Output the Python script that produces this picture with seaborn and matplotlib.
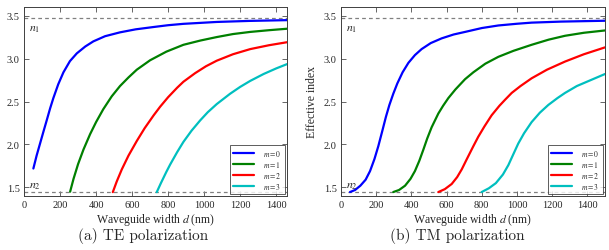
import matplotlib
matplotlib.use("Agg")
import matplotlib.pyplot as plt
import seaborn as sns
import pandas as pd

# ---- data ----
N1 = 3.476
N2 = 1.444

te_m0_d = [52, 70, 89, 108, 126, 145, 163, 190, 219, 255, 293, 340, 385, 450, 533, 620, 719, 800, 885, 1070, 1250, 1460]
te_m0_n = [1.72, 1.87, 2.01, 2.15, 2.28, 2.42, 2.54, 2.70, 2.84, 2.97, 3.06, 3.14, 3.20, 3.26, 3.305, 3.34, 3.367, 3.388, 3.404, 3.426, 3.438, 3.447]
te_m1_d = [256, 275, 300, 330, 367, 400, 440, 487, 533, 580, 626, 700, 790, 885, 980, 1070, 1160, 1256, 1360, 1460]
te_m1_n = [1.45, 1.60, 1.77, 1.94, 2.12, 2.26, 2.41, 2.56, 2.68, 2.78, 2.87, 2.98, 3.08, 3.16, 3.21, 3.25, 3.285, 3.31, 3.33, 3.347]
te_m2_d = [493, 515, 543, 580, 626, 670, 720, 756, 800, 850, 885, 950, 1010, 1070, 1160, 1256, 1360, 1460]
te_m2_n = [1.445, 1.57, 1.71, 1.87, 2.04, 2.19, 2.34, 2.44, 2.55, 2.66, 2.73, 2.83, 2.91, 2.975, 3.05, 3.11, 3.155, 3.19]
te_m3_d = [737, 760, 790, 811, 850, 885, 930, 978, 1020, 1070, 1144, 1200, 1256, 1330, 1400, 1460]
te_m3_n = [1.445, 1.55, 1.68, 1.765, 1.91, 2.03, 2.16, 2.28, 2.375, 2.47, 2.59, 2.67, 2.74, 2.82, 2.885, 2.935]

tm_m0_d = [51, 80, 110, 140, 165, 190, 212, 235, 255, 275, 297, 320, 350, 383, 420, 458, 510, 572, 640, 705, 800, 894, 1000, 1083, 1250, 1500]
tm_m0_n = [1.446, 1.47, 1.52, 1.59, 1.69, 1.83, 1.98, 2.16, 2.32, 2.46, 2.59, 2.71, 2.84, 2.95, 3.04, 3.11, 3.18, 3.235, 3.28, 3.31, 3.355, 3.385, 3.405, 3.418, 3.43, 3.44]
tm_m1_d = [297, 330, 364, 395, 420, 445, 468, 490, 515, 553, 580, 610, 650, 705, 752, 820, 894, 980, 1083, 1180, 1273, 1380, 1500]
tm_m1_n = [1.446, 1.47, 1.52, 1.60, 1.69, 1.81, 1.94, 2.07, 2.20, 2.36, 2.45, 2.54, 2.64, 2.76, 2.84, 2.94, 3.02, 3.09, 3.16, 3.22, 3.265, 3.30, 3.327]
tm_m2_d = [553, 590, 629, 660, 686, 715, 752, 780, 815, 856, 900, 932, 970, 1020, 1083, 1170, 1273, 1380, 1500]
tm_m2_n = [1.446, 1.48, 1.54, 1.62, 1.71, 1.83, 1.98, 2.09, 2.21, 2.34, 2.45, 2.52, 2.60, 2.68, 2.77, 2.87, 2.965, 3.05, 3.13]
tm_m3_d = [799, 840, 880, 920, 951, 980, 1007, 1040, 1083, 1130, 1178, 1230, 1273, 1340, 1420, 1500]
tm_m3_n = [1.446, 1.49, 1.55, 1.65, 1.76, 1.89, 2.01, 2.13, 2.26, 2.37, 2.46, 2.54, 2.60, 2.68, 2.75, 2.82]

mode_labels = ["$m=0$", "$m=1$", "$m=2$", "$m=3$"]
mode_colors = ["#0000ff", "#008000", "#ff0000", "#00bfbf"]
x_ticks = [0, 200, 400, 600, 800, 1000, 1200, 1400]
y_ticks = [1.5, 2.0, 2.5, 3.0, 3.5]
captions = ["(a) TE polarization", "(b) TM polarization"]

sns.set_theme(style="ticks")
plt.rcParams["font.family"] = ["Liberation Serif", "DejaVu Serif"]
plt.rcParams["mathtext.fontset"] = "stix"
plt.rcParams["lines.solid_joinstyle"] = "round"


def make_df(ds, ns):
    rows = []
    for lab, d, n in zip(mode_labels, ds, ns):
        for xi, yi in zip(d, n):
            rows.append({"d": xi, "n": yi, "mode": lab})
    return pd.DataFrame(rows)


df_te = make_df([te_m0_d, te_m1_d, te_m2_d, te_m3_d], [te_m0_n, te_m1_n, te_m2_n, te_m3_n])
df_tm = make_df([tm_m0_d, tm_m1_d, tm_m2_d, tm_m3_d], [tm_m0_n, tm_m1_n, tm_m2_n, tm_m3_n])

fig = plt.figure(figsize=(6.09, 2.51), dpi=100)
ax1 = fig.add_axes([24 / 609, 1 - 197 / 251, 263 / 609, 189 / 251])
ax2 = fig.add_axes([341 / 609, 1 - 197 / 251, 264 / 609, 189 / 251])

for ax, df, xmax in [(ax1, df_te, 1460), (ax2, df_tm, 1500)]:
    ax.axhline(N1, color="0.5", ls=(0, (3, 2.5)), lw=0.9, zorder=1)
    ax.axhline(N2, color="0.5", ls=(0, (3, 2.5)), lw=0.9, zorder=1)
    sns.lineplot(data=df, x="d", y="n", hue="mode", palette=mode_colors,
                 hue_order=mode_labels, sort=False, estimator=None, lw=1.6, ax=ax)
    ax.set_xlim(0, xmax)
    ax.set_ylim(1.4, 3.6)
    ax.set_xticks(x_ticks)
    ax.set_yticks(y_ticks)
    ax.set_xticklabels([str(t) for t in x_ticks])
    ax.set_yticklabels([f"{t:.1f}" for t in y_ticks])
    ax.tick_params(direction="in", length=3.5, width=0.6, top=True, right=True,
                   labelsize=7.5, pad=3, color="0.3")
    for s in ax.spines.values():
        s.set_linewidth(0.7)
        s.set_color("0.25")
    ax.set_xlabel("Waveguide width $d$ (nm)", fontsize=8.5, labelpad=1)
    ax.set_ylabel("Effective index", fontsize=8.5, labelpad=4)
    ax.text(0.02, N1 - 0.05, "$n_1$", transform=ax.get_yaxis_transform(),
            fontsize=8.5, va="top", ha="left")
    ax.text(0.02, N2 + 0.02, "$n_2$", transform=ax.get_yaxis_transform(),
            fontsize=8.5, va="bottom", ha="left")
    handles = ax.get_legend().legend_handles
    ax.get_legend().remove()
    leg = ax.legend(handles=handles, labels=mode_labels, loc="lower right",
                    fontsize=5.5, frameon=True, fancybox=False, borderaxespad=0.3,
                    handlelength=2.8, handletextpad=1.2, labelspacing=0.15,
                    borderpad=0.35)
    leg.get_frame().set_edgecolor("0.2")
    leg.get_frame().set_linewidth(0.7)
    for h in leg.legend_handles:
        h.set_linewidth(1.6)

fig.text(143 / 609, 1 - 236 / 251, captions[0], family="cmr10", fontsize=11,
         ha="center", va="center")
fig.text(457 / 609, 1 - 236 / 251, captions[1], family="cmr10", fontsize=11,
         ha="center", va="center")

fig.savefig("out.png", dpi=100)
